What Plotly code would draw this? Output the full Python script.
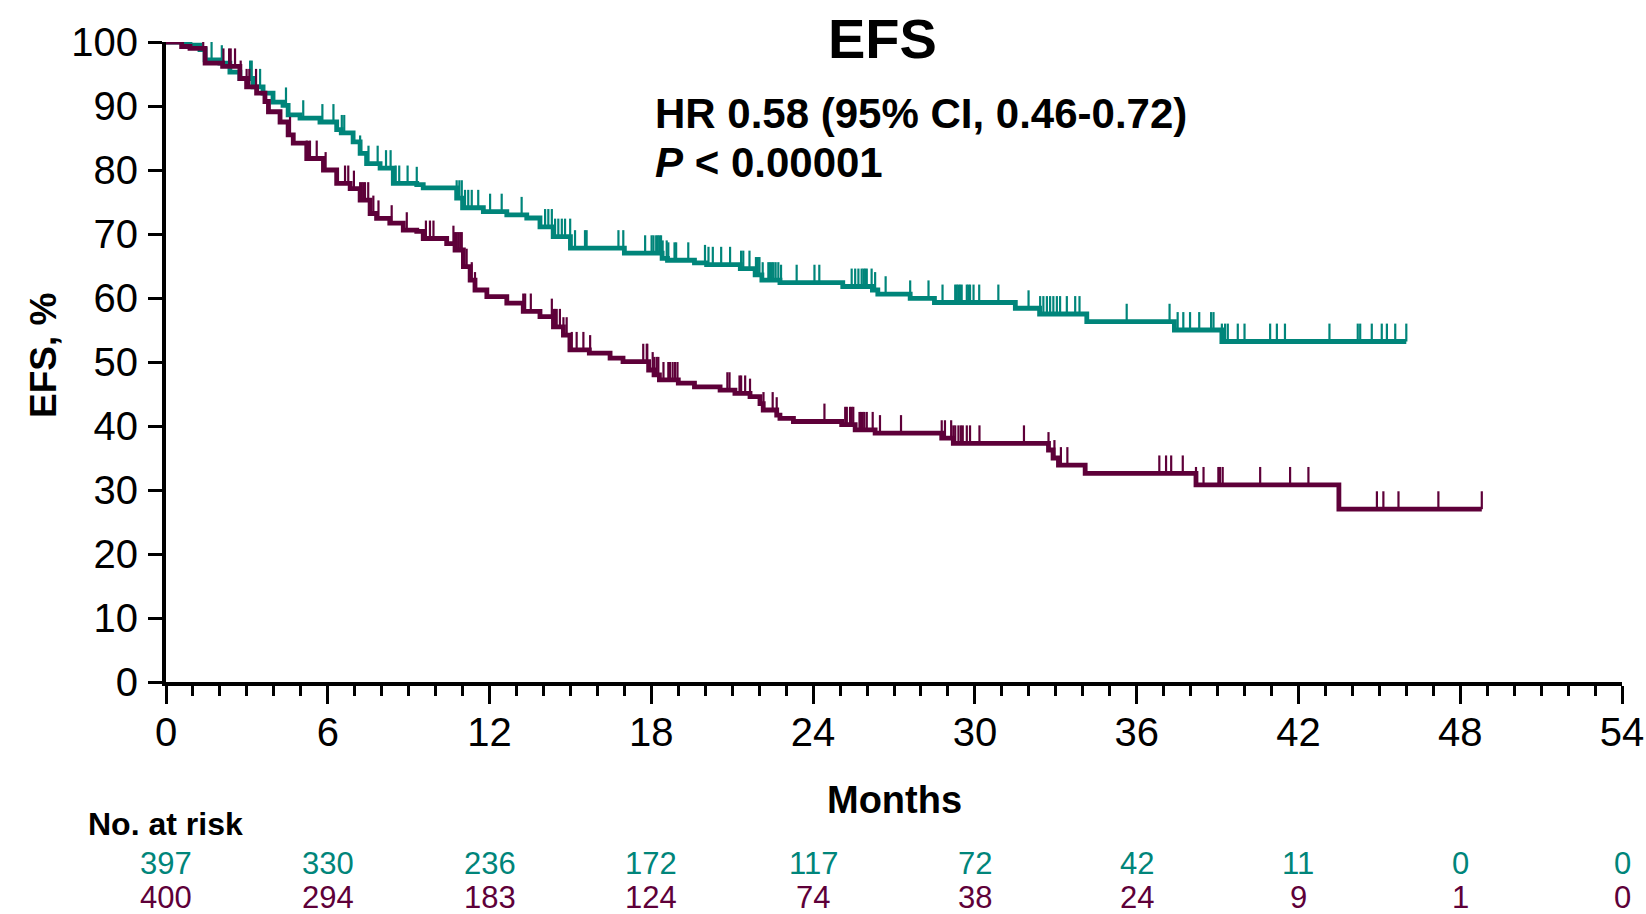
import plotly.graph_objects as go
from bisect import bisect_right

TEAL = "#00857A"
PURPLE = "#5E0039"
NARROW = "Liberation Sans Narrow, Arial Narrow, Liberation Sans, sans-serif"
BOLD = "Liberation Sans, Arial, sans-serif"

# ---- data -------------------------------------------------------------
x_ticks = [0, 6, 12, 18, 24, 30, 36, 42, 48, 54]
y_ticks = [0, 10, 20, 30, 40, 50, 60, 70, 80, 90, 100]
risk_teal = [397, 330, 236, 172, 117, 72, 42, 11, 0, 0]
risk_purple = [400, 294, 183, 124, 74, 38, 24, 9, 1, 0]

teal_t = [0, 0.89, 1.26, 1.45, 2.0, 2.37, 2.74, 3.23, 3.6, 3.97, 4.34, 4.53, 4.97,
          5.71, 6.33, 6.5, 6.94, 7.2, 7.44, 7.94, 8.43, 9.3, 9.54, 10.78, 11.0,
          11.77, 12.64, 13.38, 13.87, 14.36, 15.0, 17.0, 18.4, 18.6, 19.6, 20.05,
          21.3, 21.85, 22.1, 22.77, 25.1, 26.2, 26.4, 27.6, 28.5, 31.5, 32.4,
          34.15, 37.4, 39.16]
teal_s = [100, 99.5, 98.8, 97.2, 96.7, 95.3, 94.3, 93.0, 92.0, 90.6, 90.1, 88.6, 88.1,
          87.5, 86.3, 85.8, 84.4, 82.6, 81.0, 80.3, 77.9, 77.7, 77.2, 75.6, 74.1,
          73.5, 73.0, 72.5, 71.1, 69.6, 67.8, 67.0, 66.2, 65.9, 65.5, 65.2,
          64.6, 63.6, 62.8, 62.4, 61.8, 61.25, 60.6, 59.95, 59.3, 58.4, 57.5,
          56.3, 55.0, 53.2]
teal_end = 46.0
teal_censor = [0.05, 1.69, 2.07, 3.12, 3.18, 3.49, 4.45, 5.09, 5.80, 6.21, 6.52, 6.61,
               7.20, 7.51, 7.85, 8.16, 8.33, 8.52, 8.65, 8.96, 9.30,
               10.78, 10.88, 10.97, 11.09, 11.21, 11.34, 11.58, 12.02, 12.45, 13.19,
               14.06, 14.18, 14.31, 14.43, 14.55, 14.68, 14.80, 14.99, 15.17, 15.54,
               15.60, 16.78, 16.96, 17.77, 18.01, 18.08, 18.18, 18.24, 18.30, 18.36,
               18.42, 18.57, 18.63, 18.86, 18.92, 19.37, 19.99, 20.12, 20.28, 20.59,
               20.92, 21.33, 21.41, 21.64, 21.88, 21.95, 22.01, 22.13, 22.34, 22.40,
               22.47, 22.53, 22.61, 22.71, 22.81, 23.39, 24.05, 24.23, 25.43, 25.56,
               25.68, 25.80, 25.87, 25.93, 25.99, 26.17, 26.30, 26.69, 27.60, 28.28,
               28.80, 29.27, 29.33, 29.39, 29.45, 29.51, 29.70, 29.76, 29.82, 29.95,
               30.16, 30.87, 31.99, 32.42, 32.54, 32.67, 32.79, 32.91, 33.04, 33.16,
               33.41, 33.72, 33.88, 35.63, 37.22, 37.52, 37.73, 37.98, 38.32, 38.76,
               38.85, 39.16, 39.28, 39.38, 39.75, 40.0, 40.95, 41.2, 41.5, 43.15,
               44.2, 44.29, 44.72, 45.09, 45.28, 45.59, 46.0]

purple_t = [0, 0.58, 0.89, 1.45, 2.1, 2.74, 2.99, 3.36, 3.67, 3.8, 4.23, 4.53, 4.72,
            5.22, 5.84, 6.33, 6.83, 7.2, 7.57, 7.81, 8.3, 8.8, 9.3, 9.54, 10.41,
            10.72, 11.03, 11.28, 11.46, 11.9, 12.64, 13.25, 13.87, 14.37, 14.74,
            14.98, 15.7, 16.47, 16.95, 17.9, 18.1, 18.3, 19.0, 19.6, 20.55, 21.1,
            21.66, 22.03, 22.15, 22.65, 22.77, 23.27, 25.06, 25.56, 26.3, 28.77,
            29.2, 32.73, 32.9, 33.1, 34.09, 38.2, 43.5]
purple_s = [100, 99.3, 99.0, 96.7, 96.2, 94.3, 93.0, 92.0, 90.7, 89.1, 87.5, 85.5, 84.2,
            81.8, 80.0, 77.9, 77.1, 75.3, 73.2, 72.45, 71.7, 70.6, 70.4, 69.3, 68.5,
            67.5, 64.9, 62.8, 61.25, 60.2, 59.2, 57.9, 57.1, 55.5, 54.2,
            51.9, 51.4, 50.6, 50.05, 48.75, 48.0, 47.2, 46.7, 46.1, 45.6, 45.1,
            44.6, 43.5, 42.5, 41.7, 41.2, 40.7, 40.2, 39.4, 38.9, 38.1,
            37.3, 36.25, 35.0, 33.9, 32.6, 30.8, 27.0]
purple_end = 48.8
purple_censor = [1.38, 2.13, 2.34, 2.40, 2.56, 2.77, 2.99, 3.09, 3.34, 4.60, 5.22, 5.34,
                 5.59, 5.92, 6.64, 6.76, 6.97, 7.20, 7.26, 7.32, 7.38, 7.50, 7.69,
                 7.88, 8.37, 8.93, 9.64, 9.79, 9.92, 10.66, 10.72, 10.78, 10.84, 10.91,
                 10.97, 11.03, 11.15, 11.34, 11.46, 13.25, 13.32, 13.53, 14.31, 14.37,
                 14.43, 14.49, 14.61, 14.74, 14.86, 15.05, 15.23, 15.48, 15.73, 17.70,
                 17.83, 17.85, 18.05, 18.11, 18.20, 18.26, 18.45, 18.63, 18.69, 18.79,
                 18.88, 18.97, 20.82, 20.90, 21.27, 21.33, 21.48, 21.66, 22.16, 22.50,
                 22.65, 24.42, 25.19, 25.25, 25.37, 25.43, 25.49, 25.72, 25.78, 25.84,
                 25.90, 25.99, 26.21, 26.48, 27.26, 28.77, 28.89, 29.12, 29.20, 29.27,
                 29.39, 29.48, 29.55, 29.70, 29.82, 30.17, 31.82, 32.73, 32.95, 33.19,
                 33.43, 36.84, 37.09, 37.28, 37.71, 38.2, 38.48, 39.03, 39.09, 39.19,
                 40.58, 41.69, 42.37, 44.91, 45.15, 45.71, 47.19, 48.8]


def step_xy(ts, ss, end):
    return ts + [end], ss + [ss[-1]]


def censor_xy(ts, ss, cens, h=2.8):
    xs, ys = [], []
    for c in cens:
        i = bisect_right(ts, c) - 1
        v = ss[max(i, 0)]
        xs += [c, c, None]
        ys += [v, v + h, None]
    return xs, ys


fig = go.Figure()
for ts, ss, end, cens, col in [
    (teal_t, teal_s, teal_end, teal_censor, TEAL),
    (purple_t, purple_s, purple_end, purple_censor, PURPLE),
]:
    cx, cy = censor_xy(ts, ss, cens)
    fig.add_trace(go.Scatter(x=cx, y=cy, mode="lines", line=dict(color=col, width=2.2),
                             showlegend=False, hoverinfo="skip"))
    sx, sy = step_xy(ts, ss, end)
    fig.add_trace(go.Scatter(x=sx, y=sy, mode="lines", line=dict(color=col, width=4.8, shape="hv"),
                             showlegend=False, hoverinfo="skip"))

fig.update_layout(
    width=1646, height=914,
    margin=dict(l=166, r=24, t=42, b=232, autoexpand=False),
    paper_bgcolor="white", plot_bgcolor="white",
    showlegend=False,
    xaxis=dict(range=[0, 54], tickvals=x_ticks, ticktext=[str(v) for v in x_ticks],
               showgrid=False, zeroline=False, showline=True, linecolor="black", linewidth=4,
               ticks="outside", ticklen=18, tickwidth=3, tickcolor="black",
               minor=dict(dtick=1, tick0=0, ticks="outside", ticklen=10, tickwidth=3, tickcolor="black"),
               tickfont=dict(family=NARROW, size=40, color="black"), ticklabelstandoff=-6),
    yaxis=dict(range=[0, 100], tickvals=y_ticks, ticktext=[str(v) for v in y_ticks],
               showgrid=False, zeroline=False, showline=True, linecolor="black", linewidth=4,
               ticks="outside", ticklen=14, tickwidth=3, tickcolor="black",
               tickfont=dict(family=NARROW, size=40, color="black"), ticklabelstandoff=2),
)

ann = []
ann.append(dict(text="<b>EFS</b>", x=0.4918, y=1.0047, xref="paper", yref="paper",
                xanchor="center", yanchor="middle", showarrow=False,
                font=dict(family=BOLD, size=56, color="black")))
ann.append(dict(text="<b>HR 0.58 (95% CI, 0.46-0.72)</b>", x=0.3345, y=0.889, xref="paper",
                yref="paper", xanchor="left", yanchor="middle", showarrow=False,
                font=dict(family=BOLD, size=42, color="black")))
ann.append(dict(text="<b><i>P</i> &lt; 0.00001</b>", x=0.3345, y=0.811, xref="paper",
                yref="paper", xanchor="left", yanchor="middle", showarrow=False,
                font=dict(family=BOLD, size=42, color="black")))
ann.append(dict(text="<b>EFS, %</b>", x=-0.0838, y=0.511, xref="paper", yref="paper",
                xanchor="center", yanchor="middle", textangle=-90, showarrow=False,
                font=dict(family=BOLD, size=37, color="black")))
ann.append(dict(text="<b>Months</b>", x=0.5, y=-0.184, xref="paper", yref="paper",
                xanchor="center", yanchor="middle", showarrow=False,
                font=dict(family=BOLD, size=38, color="black")))
ann.append(dict(text="<b>No. at risk</b>", x=-0.0549, y=-0.222, xref="paper", yref="paper",
                xanchor="left", yanchor="middle", showarrow=False,
                font=dict(family=NARROW, size=32, color="black")))
for xv, n in zip(x_ticks, risk_teal):
    ann.append(dict(text=str(n), x=xv, y=-0.283, xref="x", yref="paper", xanchor="center",
                    yanchor="middle", showarrow=False, font=dict(family=NARROW, size=31, color=TEAL)))
for xv, n in zip(x_ticks, risk_purple):
    ann.append(dict(text=str(n), x=xv, y=-0.336, xref="x", yref="paper", xanchor="center",
                    yanchor="middle", showarrow=False, font=dict(family=NARROW, size=31, color=PURPLE)))
fig.update_layout(annotations=ann)

fig.write_html("out.html")
